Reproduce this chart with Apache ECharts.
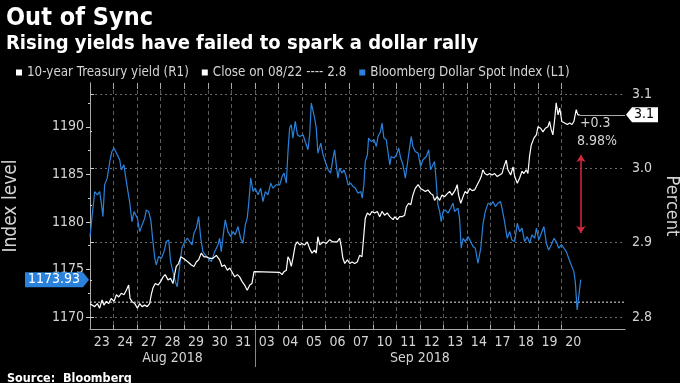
<!DOCTYPE html>
<html><head><meta charset="utf-8">
<script src="https://cdn.jsdelivr.net/npm/echarts@6/dist/echarts.min.js"></script>
<style>html,body{margin:0;padding:0;background:#000}#c{width:680px;height:383px}</style>
</head><body><div id="c"></div>
<script>
const dayLabels = ['23','24','27','28','29','30','31','03','04','05','06','07','10','11','12','13','14','17','18','19','20'];
const monthLabels = ['Aug 2018','Sep 2018'];
const leftTicks = [1170,1175,1180,1185,1190];
const leftMinor = [1172.5,1177.5,1182.5,1187.5,1192.5];
const rightTicks = [2.8,2.9,3.0,3.1];
const rightMinor = [2.85,2.95,3.05];
const closeValue = 2.82;
const changeText = ['+0.3','8.98%'];
const arrowRange = [3.018, 2.913];

// time in trading-day units (0 = open of Aug 23)
const dollarT = [0,0.20,0.31,0.41,0.48,0.55,0.62,0.73,0.84,0.93,1.02,1.12,1.26,1.33,1.44,1.50,1.61,1.68,1.78,1.87,2.01,2.11,2.21,2.32,2.39,2.49,2.58,2.67,2.75,2.81,2.91,3.03,3.14,3.24,3.34,3.42,3.52,3.62,3.70,3.81,3.90,4.02,4.13,4.23,4.33,4.41,4.51,4.61,4.70,4.79,4.89,5.01,5.15,5.29,5.43,5.50,5.57,5.69,5.74,5.85,5.97,6.07,6.16,6.28,6.39,6.49,6.59,6.67,6.73,6.82,6.92,7.01,7.13,7.24,7.34,7.44,7.55,7.67,7.76,7.90,8.05,8.15,8.23,8.33,8.40,8.47,8.54,8.61,8.71,8.80,8.90,9.04,9.13,9.25,9.32,9.39,9.46,9.53,9.60,9.67,9.79,9.89,9.98,10.10,10.21,10.31,10.38,10.45,10.52,10.59,10.69,10.78,10.87,10.95,11.06,11.16,11.26,11.37,11.49,11.55,11.62,11.68,11.77,11.82,11.93,12.05,12.15,12.22,12.33,12.39,12.47,12.57,12.64,12.72,12.78,12.90,13.00,13.10,13.18,13.28,13.38,13.49,13.56,13.63,13.70,13.80,13.92,14.03,14.13,14.27,14.37,14.45,14.55,14.62,14.69,14.76,14.84,14.90,14.98,15.07,15.19,15.30,15.40,15.47,15.61,15.68,15.75,15.83,15.92,16.04,16.15,16.25,16.35,16.46,16.58,16.67,16.77,16.89,17.00,17.10,17.20,17.31,17.42,17.48,17.59,17.70,17.81,17.90,18.02,18.13,18.23,18.33,18.44,18.55,18.66,18.75,18.87,18.94,19.04,19.15,19.26,19.36,19.46,19.57,19.69,19.78,19.89,20.00,20.11,20.21,20.31,20.42,20.53,20.59,20.67,20.73,20.82];
const dollarV = [1178.45,1183.19,1182.84,1183.19,1182.0,1180.56,1183.89,1184.6,1186.35,1187.4,1187.76,1187.23,1186.53,1185.47,1186.0,1184.95,1183.19,1182.14,1180.03,1181.08,1180.39,1178.98,1179.68,1180.39,1181.26,1181.08,1180.21,1177.93,1176.18,1175.47,1176.35,1176.18,1176.87,1177.93,1178.1,1175.82,1174.77,1173.72,1173.19,1175.47,1177.23,1177.93,1178.28,1177.93,1177.58,1178.81,1179.34,1180.56,1178.28,1176.87,1176.53,1176.18,1175.82,1176.87,1177.58,1178.28,1176.87,1179.34,1180.21,1178.98,1178.45,1178.98,1178.63,1179.51,1178.28,1177.76,1179.68,1180.39,1181.79,1184.6,1183.19,1183.55,1182.84,1183.55,1182.14,1183.19,1182.84,1184.07,1183.55,1183.89,1183.89,1184.77,1185.13,1184.07,1187.4,1189.86,1190.21,1188.81,1190.56,1189.16,1188.98,1189.16,1188.45,1187.58,1189.16,1192.49,1192.32,1190.92,1189.86,1187.23,1188.28,1187.05,1186.35,1185.5,1185.13,1186.71,1187.58,1186.0,1184.6,1185.65,1185.13,1185.47,1184.77,1183.89,1184.07,1183.72,1183.55,1183.02,1183.19,1182.49,1183.89,1186.35,1187.05,1188.81,1188.45,1188.63,1187.93,1188.98,1189.51,1190.39,1188.81,1188.63,1187.4,1186.0,1186.87,1186.71,1187.05,1187.76,1186.71,1186.0,1184.6,1186.53,1187.76,1188.98,1187.93,1187.4,1187.23,1185.82,1186.53,1186.87,1187.58,1185.47,1186.0,1186.35,1184.24,1181.79,1181.08,1180.03,1181.08,1181.26,1180.92,1181.44,1181.97,1181.08,1181.44,1180.39,1177.23,1178.28,1177.93,1178.45,1177.93,1177.4,1177.23,1175.65,1177.23,1179.68,1181.08,1181.97,1181.79,1182.14,1181.61,1181.97,1182.14,1181.44,1180.03,1178.28,1178.98,1178.1,1177.93,1179.86,1178.98,1179.34,1177.93,1178.45,1177.76,1178.63,1178.28,1179.34,1178.1,1178.81,1179.51,1177.76,1177.05,1177.58,1178.28,1177.93,1177.23,1177.58,1177.23,1176.87,1176.18,1175.47,1174.77,1173.72,1170.74,1171.97,1173.93];

const yieldT = [0,0.08,0.20,0.31,0.41,0.51,0.59,0.69,0.79,0.90,1.02,1.12,1.22,1.33,1.44,1.54,1.64,1.70,1.78,1.90,2.01,2.11,2.21,2.32,2.43,2.53,2.60,2.67,2.77,2.89,3.00,3.10,3.19,3.31,3.42,3.52,3.59,3.66,3.76,3.85,3.95,4.04,4.16,4.30,4.41,4.51,4.61,4.72,4.84,4.93,5.08,5.22,5.36,5.50,5.60,5.71,5.83,5.93,6.02,6.14,6.25,6.35,6.45,6.56,6.67,6.78,6.87,6.96,8.05,8.15,8.23,8.33,8.40,8.47,8.54,8.61,8.71,8.80,8.90,8.99,9.11,9.22,9.32,9.42,9.53,9.60,9.67,9.75,9.89,10.03,10.17,10.31,10.49,10.59,10.66,10.73,10.81,10.92,11.02,11.12,11.23,11.34,11.44,11.54,11.62,11.68,11.77,11.87,11.96,12.08,12.19,12.29,12.39,12.50,12.61,12.72,12.86,12.93,13.04,13.14,13.24,13.35,13.42,13.52,13.61,13.70,13.80,13.92,14.03,14.13,14.23,14.34,14.46,14.55,14.62,14.73,14.84,14.93,15.05,15.16,15.26,15.36,15.50,15.58,15.64,15.73,15.83,15.92,16.01,16.11,16.21,16.32,16.43,16.53,16.60,16.67,16.75,16.86,16.96,17.06,17.17,17.28,17.38,17.48,17.56,17.66,17.73,17.85,17.95,18.02,18.13,18.23,18.33,18.41,18.51,18.58,18.65,18.72,18.84,18.94,19.01,19.12,19.22,19.32,19.43,19.50,19.57,19.64,19.72,19.78,19.86,19.93,20.02,20.14,20.25,20.35,20.45,20.53,20.63,20.70,20.78];
const yieldV = [2.818,2.816,2.814,2.818,2.812,2.823,2.816,2.821,2.818,2.825,2.821,2.830,2.827,2.832,2.830,2.836,2.843,2.825,2.821,2.818,2.812,2.818,2.814,2.816,2.814,2.818,2.830,2.839,2.845,2.843,2.848,2.854,2.857,2.850,2.852,2.845,2.857,2.868,2.872,2.881,2.879,2.877,2.874,2.870,2.868,2.874,2.877,2.886,2.881,2.881,2.879,2.879,2.883,2.877,2.868,2.870,2.863,2.866,2.861,2.854,2.857,2.854,2.848,2.843,2.836,2.843,2.845,2.861,2.860,2.857,2.861,2.863,2.881,2.877,2.868,2.879,2.897,2.901,2.897,2.899,2.897,2.901,2.892,2.886,2.890,2.886,2.908,2.897,2.901,2.899,2.904,2.901,2.901,2.906,2.895,2.879,2.872,2.877,2.872,2.874,2.872,2.874,2.883,2.881,2.883,2.933,2.940,2.937,2.942,2.940,2.942,2.935,2.942,2.937,2.940,2.935,2.931,2.935,2.931,2.935,2.935,2.937,2.948,2.953,2.951,2.964,2.973,2.978,2.973,2.971,2.969,2.971,2.966,2.964,2.957,2.962,2.957,2.964,2.962,2.966,2.969,2.964,2.971,2.978,2.964,2.953,2.962,2.969,2.966,2.973,2.970,2.971,2.978,2.984,2.989,2.998,2.993,2.991,2.993,2.991,2.993,2.989,2.991,2.993,3.002,3.011,2.998,2.991,3.002,2.989,2.980,2.987,2.996,2.993,2.998,2.993,3.016,3.031,3.041,3.045,3.056,3.054,3.049,3.054,3.056,3.063,3.052,3.045,3.067,3.088,3.072,3.081,3.063,3.061,3.059,3.061,3.059,3.063,3.079,3.072,3.072];

const FONT = '"DejaVu Sans Condensed","DejaVu Sans",sans-serif';
const TXT = '#d4d4d4';
const BLUE = '#2a82dc';
const XMAX = 22.7;
const zip = (a, b) => a.slice(0, Math.min(a.length, b.length)).map((t, i) => [t, b[i]]);
const augCount = dayLabels.indexOf('03');
const boundaries = dayLabels.map((d, i) => i);
const dayCenters = dayLabels.map((d, i) => i + 0.5);
const monthCenters = [augCount / 2, (augCount + dayLabels.length) / 2];
const lastYield = yieldV[yieldV.length - 1];
const lastYieldT = yieldT[yieldT.length - 1];
const lastDollar = dollarV[dollarV.length - 1];

const chart = echarts.init(document.getElementById('c'), null, {renderer: 'canvas'});
const baseX = {type: 'value', min: 0, max: XMAX, gridIndex: 0};
chart.setOption({
  animation: false,
  backgroundColor: '#000',
  textStyle: {fontFamily: FONT},
  title: [
    {text: 'Out of Sync', left: 1, top: 1, textStyle: {color: '#fff', fontSize: 25, fontWeight: 'bold', fontFamily: FONT}},
    {text: 'Rising yields have failed to spark a dollar rally', left: 1, top: 29, textStyle: {color: '#fff', fontSize: 20, fontWeight: 'bold', fontFamily: FONT}},
    {text: 'Source:  Bloomberg', left: 2, top: 367, textStyle: {color: '#fff', fontSize: 12.5, fontWeight: 'bold', fontFamily: FONT}}
  ],
  legend: {
    left: 11, top: 61, icon: 'rect', itemWidth: 6, itemHeight: 6, itemGap: 13,
    textStyle: {color: TXT, fontSize: 13.3, fontFamily: FONT},
    data: ['10-year Treasury yield (R1)', 'Close on 08/22 ---- 2.8', 'Bloomberg Dollar Spot Index (L1)']
  },
  grid: {left: 90, right: 55, top: 83, bottom: 54, containLabel: false, outerBoundsMode: 'none'},
  xAxis: [
    Object.assign({}, baseX, {position: 'bottom',
      axisLine: {show: true, lineStyle: {color: '#aaa'}},
      axisTick: {show: true, inside: true, length: 4, customValues: boundaries, lineStyle: {color: '#aaa'}},
      axisLabel: {show: false},
      splitLine: {show: true, lineStyle: {color: '#5c5c5c', type: [4, 3]}}}),
    Object.assign({}, baseX, {position: 'bottom',
      axisLine: {show: false}, axisTick: {show: false}, splitLine: {show: false},
      axisLabel: {show: true, customValues: dayCenters, formatter: v => dayLabels[Math.floor(v)], color: TXT, fontSize: 14, margin: 6, fontFamily: FONT}}),
    Object.assign({}, baseX, {position: 'bottom',
      axisLine: {show: false}, splitLine: {show: false},
      axisTick: {show: true, customValues: [augCount], length: 38, lineStyle: {color: '#888'}},
      axisLabel: {show: true, customValues: monthCenters, formatter: v => (v < augCount ? monthLabels[0] : monthLabels[1]), color: TXT, fontSize: 14, margin: 22, fontFamily: FONT}}),
    Object.assign({}, baseX, {position: 'top',
      axisLine: {show: false}, splitLine: {show: false}, axisLabel: {show: false},
      axisTick: {show: true, inside: true, length: 6, customValues: boundaries, lineStyle: {color: '#aaa'}}})
  ],
  yAxis: [
    {type: 'value', position: 'left', min: 1168.74, max: 1194.6,
      axisLine: {show: true, lineStyle: {color: '#aaa'}},
      axisTick: {show: true, length: 4, customValues: leftTicks, lineStyle: {color: '#ccc'}},
      axisLabel: {customValues: leftTicks, formatter: v => String(v), color: TXT, fontSize: 14, margin: 6, fontFamily: FONT},
      splitLine: {show: false},
      name: 'Index level', nameLocation: 'middle', nameRotate: 90, nameGap: 69,
      nameTextStyle: {color: TXT, fontSize: 19, fontFamily: FONT}},
    {type: 'value', position: 'right', min: 2.7839, max: 3.1148,
      axisLine: {show: true, lineStyle: {color: '#aaa'}},
      axisTick: {show: true, length: 4, customValues: rightTicks, lineStyle: {color: '#ccc'}},
      axisLabel: {customValues: rightTicks, formatter: v => v.toFixed(1), color: TXT, fontSize: 14, margin: 7, fontFamily: FONT},
      splitLine: {show: true, lineStyle: {color: '#6a6a6a', type: [2, 3]}},
      name: 'Percent', nameLocation: 'middle', nameRotate: -90, nameGap: 32,
      nameTextStyle: {color: TXT, fontSize: 18, fontFamily: FONT}},
    {type: 'value', position: 'left', min: 1168.74, max: 1194.6,
      axisLine: {show: false}, splitLine: {show: false}, axisLabel: {show: false},
      axisTick: {show: true, length: 2, customValues: leftMinor, lineStyle: {color: '#ccc'}}},
    {type: 'value', position: 'right', min: 2.7839, max: 3.1148,
      axisLine: {show: false}, splitLine: {show: false}, axisLabel: {show: false},
      axisTick: {show: true, length: 2, customValues: rightMinor, lineStyle: {color: '#ccc'}}}
  ],
  series: [
    {name: 'Close on 08/22 ---- 2.8', type: 'line', xAxisIndex: 0, yAxisIndex: 1,
      data: [[0, closeValue], [XMAX, closeValue]], showSymbol: false, symbol: 'none',
      itemStyle: {color: '#fff'}, lineStyle: {color: '#e0e0e0', width: 1, type: [2, 2]}, z: 2},
    {name: '10-year Treasury yield (R1)', type: 'line', xAxisIndex: 0, yAxisIndex: 1,
      data: zip(yieldT, yieldV), showSymbol: false, symbol: 'none',
      itemStyle: {color: '#fff'}, lineStyle: {color: '#fff', width: 1.2}, z: 4,
      markLine: {silent: true, animation: false, symbol: 'none', label: {show: false},
        data: [
          [{coord: [lastYieldT, lastYield], lineStyle: {color: '#aaa', width: 1, type: 'solid'}}, {coord: [XMAX, lastYield]}],
          [{coord: [lastYieldT + 0.05, arrowRange[0]], symbol: 'arrow', symbolSize: [7, 7], lineStyle: {color: '#d6283e', width: 1.5, type: 'solid'}},
           {coord: [lastYieldT + 0.05, arrowRange[1]], symbol: 'arrow', symbolSize: [7, 7]}]
        ]},
      markPoint: {silent: true, animation: false,
        data: [{coord: [XMAX, lastYield], symbol: 'path://M0,7 L6,0 L32,0 L32,14 L6,14 Z', symbolSize: [32, 15], symbolOffset: [17, 0],
          itemStyle: {color: '#fff'}, label: {show: true, formatter: lastYield.toFixed(1), color: '#000', fontSize: 14, fontFamily: FONT, offset: [2, 0]}}]}},
    {name: 'Bloomberg Dollar Spot Index (L1)', type: 'line', xAxisIndex: 0, yAxisIndex: 0,
      data: zip(dollarT, dollarV), showSymbol: false, symbol: 'none',
      itemStyle: {color: BLUE}, lineStyle: {color: BLUE, width: 1.2}, z: 3,
      markPoint: {silent: true, animation: false,
        data: [{coord: [0, lastDollar], symbol: 'path://M0,0 L58,0 L64,7 L58,14 L0,14 Z', symbolSize: [64, 15], symbolOffset: [-33, 0],
          itemStyle: {color: BLUE}, label: {show: true, formatter: lastDollar.toFixed(2), color: '#fff', fontSize: 14, fontFamily: FONT, offset: [-3, 0]}}]}}
  ],
  graphic: [
    {type: 'text', left: 580, top: 116, style: {text: changeText[0], fill: TXT, font: '14px ' + FONT}},
    {type: 'text', left: 577, top: 134, style: {text: changeText[1], fill: TXT, font: '14px ' + FONT}}
  ]
});
</script></body></html>
